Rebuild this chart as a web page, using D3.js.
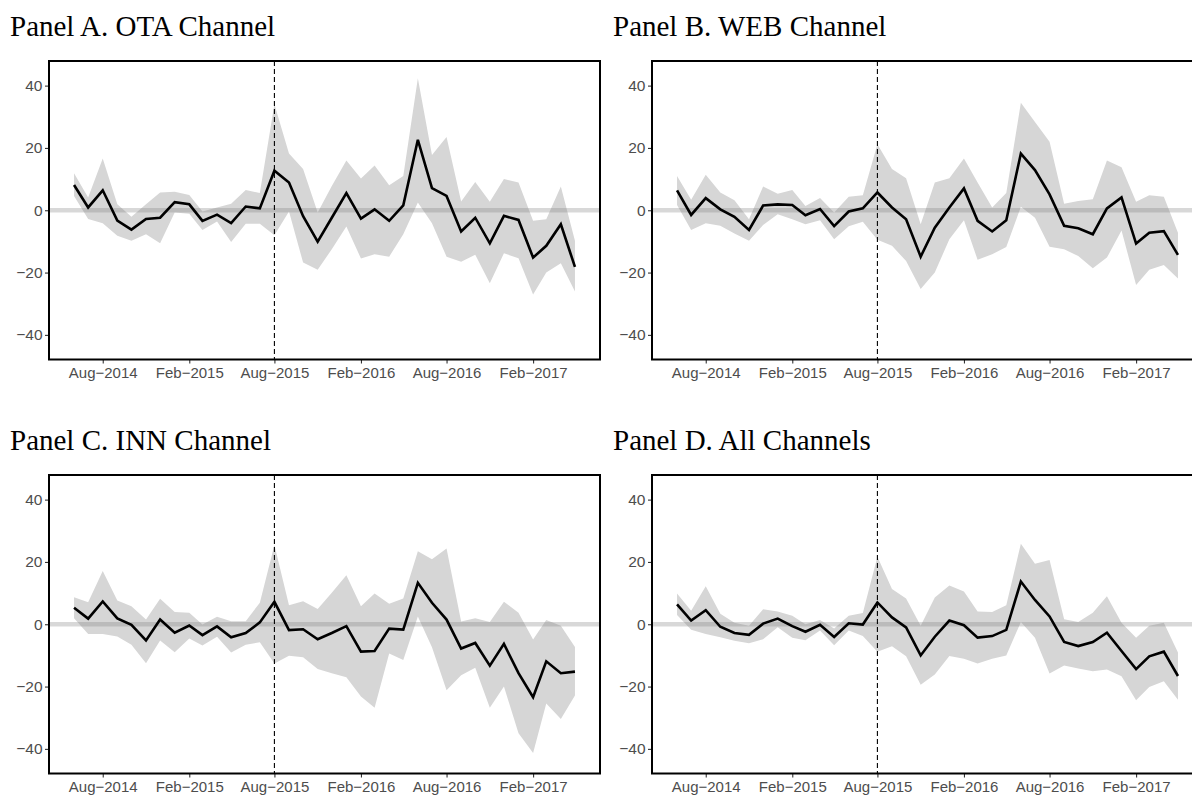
<!DOCTYPE html>
<html>
<head>
<meta charset="utf-8">
<script src="https://cdn.jsdelivr.net/npm/d3@7"></script>
<style>
  html, body { margin: 0; padding: 0; background: #fff; }
  svg { display: block; }
</style>
</head>
<body>
<svg id="chart" width="1192" height="796"></svg>
<script>
// ---- data (monthly, Jun-2014 .. May-2017) ----
const months = [
  "2014-06","2014-07","2014-08","2014-09","2014-10","2014-11","2014-12",
  "2015-01","2015-02","2015-03","2015-04","2015-05","2015-06","2015-07","2015-08",
  "2015-09","2015-10","2015-11","2015-12","2016-01","2016-02","2016-03","2016-04",
  "2016-05","2016-06","2016-07","2016-08","2016-09","2016-10","2016-11","2016-12",
  "2017-01","2017-02","2017-03","2017-04","2017-05"
];
const tickMonths = ["2014-08","2015-02","2015-08","2016-02","2016-08","2017-02"];
const yTicks = [-40, -20, 0, 20, 40];
const eventMonth = "2015-08";

const otaMean  = [8.1,0.9,6.4,-3.3,-6.2,-2.8,-2.4,2.6,1.9,-3.4,-1.4,-4.1,1.2,0.6,12.7,8.9,-1.9,-10.1,-2.4,5.5,-2.7,0.3,-3.4,1.6,22.6,7.1,4.6,-6.8,-2.4,-10.6,-1.8,-3.1,-15.2,-11.4,-4.5,-18.2];
const otaUpper = [11.9,4.1,16.6,1.9,-2.1,1.9,5.7,5.9,4.9,-0.4,0.9,2.1,6.5,5.5,34.0,18.2,13.2,-0.7,7.8,16.0,10.2,14.4,8.0,11.0,42.4,17.7,23.5,2.8,9.1,2.7,10.0,8.9,-3.4,-2.9,7.6,-9.8];
const otaLower = [4.6,-2.8,-4.2,-8.2,-9.8,-7.7,-10.6,-0.7,-1.1,-6.3,-3.6,-10.2,-4.3,-4.3,-8.0,-0.4,-16.8,-19.1,-12.5,-5.2,-15.5,-14.1,-14.9,-7.7,2.5,-4.2,-14.9,-16.5,-14.3,-23.4,-13.8,-15.4,-27.0,-20.0,-17.0,-26.1];

const webMean  = [6.4,-1.5,3.9,0.3,-2.1,-6.3,1.5,1.9,1.7,-1.6,0.4,-5.1,-0.4,0.6,5.7,0.9,-2.9,-14.9,-5.6,0.9,7.0,-3.4,-6.8,-3.2,18.2,12.9,5.1,-5.0,-5.8,-7.7,0.6,4.1,-10.7,-7.2,-6.7,-14.3];
const webUpper = [11.0,3.4,11.4,5.7,3.2,-2.9,7.6,5.3,6.5,1.4,3.9,-0.7,4.3,4.8,21.2,13.2,10.3,-4.5,8.9,10.3,16.6,8.9,0.9,5.5,34.5,28.3,22.0,2.1,3.0,3.5,16.0,13.8,2.7,4.8,4.3,-7.2];
const webLower = [1.7,-6.3,-4.2,-5.0,-7.5,-9.8,-4.7,-1.3,-2.9,-4.5,-3.2,-9.3,-5.1,-3.7,-9.5,-11.4,-16.3,-25.3,-20.0,-9.3,-3.2,-15.9,-14.1,-11.8,1.1,-2.4,-11.7,-12.5,-14.7,-18.6,-15.2,-6.5,-24.0,-19.1,-17.6,-21.9];

const innMean  = [5.3,1.8,7.3,1.9,-0.2,-5.2,1.5,-2.7,-0.4,-3.5,-0.7,-4.2,-2.8,0.6,7.2,-1.9,-1.6,-4.8,-2.8,-0.6,-8.8,-8.6,-1.4,-1.7,13.3,6.9,1.5,-7.8,-6.0,-13.3,-6.3,-15.7,-23.4,-11.9,-15.7,-15.2];
const innUpper = [8.7,7.1,17.1,7.6,5.8,1.5,8.2,3.9,3.7,-0.1,2.4,1.0,1.0,6.9,25.4,6.1,7.4,4.9,10.1,15.7,5.8,9.9,6.6,8.3,23.4,20.9,24.3,0.9,1.9,0.7,7.2,3.7,-4.9,1.4,-0.5,-7.3];
const innLower = [1.9,-3.1,-3.1,-3.9,-6.6,-12.5,-5.2,-9.0,-4.6,-6.8,-4.0,-9.1,-6.6,-5.8,-12.6,-10.1,-10.6,-14.4,-15.7,-17.0,-23.2,-26.8,-9.4,-11.5,2.5,-7.4,-21.2,-16.4,-14.0,-26.8,-20.0,-35.0,-41.3,-25.4,-30.4,-22.9];

const allMean  = [6.4,1.2,4.5,-0.8,-2.8,-3.4,0.2,1.8,-0.6,-2.4,-0.2,-4.1,0.3,-0.1,7.0,2.2,-1.0,-10.0,-4.0,1.2,-0.3,-4.3,-3.8,-1.8,13.7,7.8,2.5,-5.7,-7.0,-5.7,-2.7,-8.6,-14.4,-10.3,-8.8,-16.6];
const allUpper = [9.9,4.3,12.2,3.4,0.5,-0.5,4.8,4.1,2.7,0.0,1.4,-1.4,2.7,3.6,21.7,11.3,8.3,-0.5,8.6,12.4,10.5,4.1,3.9,6.1,25.8,19.4,20.6,1.6,0.7,3.7,9.0,0.5,-4.3,-0.5,0.5,-9.1];
const allLower = [3.0,-1.8,-3.1,-4.2,-5.3,-6.1,-4.8,-1.0,-4.3,-5.1,-2.0,-6.7,-2.0,-3.8,-8.8,-7.1,-10.3,-19.4,-16.1,-10.2,-11.1,-12.6,-11.1,-10.0,0.7,-4.3,-15.8,-13.2,-14.2,-15.1,-14.5,-16.7,-24.4,-20.1,-18.3,-24.2];

const panelTitles = ["Panel A. OTA Channel", "Panel B. WEB Channel", "Panel C. INN Channel", "Panel D. All Channels"];

// ---- layout ----
const panels = [
  { title: panelTitles[0], mean: otaMean, upper: otaUpper, lower: otaLower, left: 49,  top: 61 },
  { title: panelTitles[1], mean: webMean, upper: webUpper, lower: webLower, left: 652, top: 61 },
  { title: panelTitles[2], mean: innMean, upper: innUpper, lower: innLower, left: 49,  top: 475 },
  { title: panelTitles[3], mean: allMean, upper: allUpper, lower: allLower, left: 652, top: 475 }
];
const W = 551, H = 298.5;

const parse = d3.timeParse("%Y-%m");
const dates = months.map(parse);
const t0 = dates[0], t1 = dates[dates.length - 1];
const span = t1 - t0;
const fmtMonth = d3.timeFormat("%b");
const fmtYear = d3.timeFormat("%Y");
const fmt = d => fmtMonth(d) + "\u2212" + fmtYear(d);

const svg = d3.select("#chart");

panels.forEach(p => {
  const x = d3.scaleTime()
    .domain([new Date(+t0 - 0.05 * span), new Date(+t1 + 0.05 * span)])
    .range([0, W]);
  const y = d3.scaleLinear().domain([-47.9, 47.9]).range([H, 0]);

  const g = svg.append("g").attr("transform", `translate(${p.left},${p.top})`);

  // title
  svg.append("text")
    .attr("x", p.left - 39)
    .attr("y", p.top - 25)
    .attr("font-family", "'Liberation Serif', 'Times New Roman', serif")
    .attr("font-size", 29)
    .attr("fill", "#000")
    .text(p.title);

  const clipId = "clip" + p.left + "_" + p.top;
  g.append("clipPath").attr("id", clipId)
    .append("rect").attr("x", 0).attr("y", 0).attr("width", W).attr("height", H);

  const plot = g.append("g").attr("clip-path", `url(#${clipId})`);

  const rows = dates.map((d, i) => ({ d, m: p.mean[i], lo: p.lower[i], hi: p.upper[i] }));

  // ribbon
  plot.append("path")
    .datum(rows)
    .attr("fill", "#d6d6d6")
    .attr("d", d3.area().x(r => x(r.d)).y0(r => y(r.lo)).y1(r => y(r.hi)));

  // zero line
  plot.append("line")
    .attr("x1", 0).attr("x2", W)
    .attr("y1", y(0)).attr("y2", y(0))
    .attr("stroke", "#7f7f7f").attr("stroke-opacity", 0.3)
    .attr("stroke-width", 4.5);

  // event line
  const ev = parse(eventMonth);
  plot.append("line")
    .attr("x1", x(ev)).attr("x2", x(ev))
    .attr("y1", 0).attr("y2", H)
    .attr("stroke", "#000").attr("stroke-width", 1.1)
    .attr("stroke-dasharray", "5,3");

  // mean line
  plot.append("path")
    .datum(rows)
    .attr("fill", "none")
    .attr("stroke", "#000")
    .attr("stroke-width", 2.6)
    .attr("stroke-linejoin", "miter")
    .attr("d", d3.line().x(r => x(r.d)).y(r => y(r.m)));

  // axes
  const xAxis = d3.axisBottom(x)
    .tickValues(tickMonths.map(parse))
    .tickFormat(fmt)
    .tickSize(4).tickPadding(4);
  const xg = g.append("g").attr("transform", `translate(0,${H})`).call(xAxis);
  const yAxis = d3.axisLeft(y).tickValues(yTicks)
    .tickFormat(v => v < 0 ? "\u2212" + Math.abs(v) : String(v))
    .tickSize(4).tickPadding(2.5);
  const yg = g.append("g").call(yAxis);

  [xg, yg].forEach(ax => {
    ax.select(".domain").remove();
    ax.selectAll(".tick line").attr("stroke", "#333").attr("stroke-width", 1.1);
    ax.selectAll(".tick text")
      .attr("fill", "#4d4d4d")
      .attr("font-family", "'Liberation Sans', Arial, sans-serif")
      .attr("font-size", 15.5);
  });
  xg.selectAll(".tick text").attr("font-size", 15);

  // border
  g.append("rect")
    .attr("x", 0).attr("y", 0).attr("width", W).attr("height", H)
    .attr("fill", "none").attr("stroke", "#000").attr("stroke-width", 2);
});
</script>
</body>
</html>
